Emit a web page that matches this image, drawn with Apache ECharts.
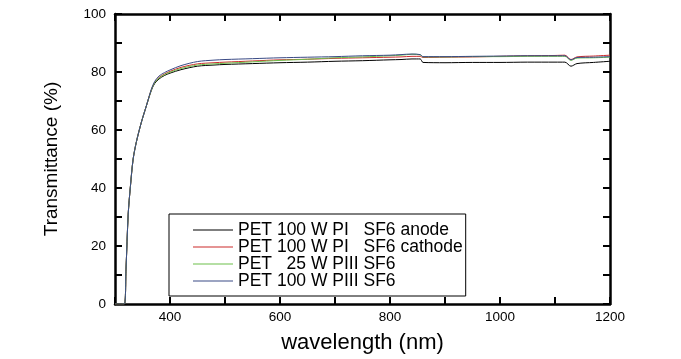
<!DOCTYPE html>
<html>
<head>
<meta charset="utf-8">
<script src="https://cdn.jsdelivr.net/npm/echarts@6/dist/echarts.min.js"></script>
<style>html,body{margin:0;padding:0;background:#fff;}#c{width:681px;height:359px;}</style>
</head>
<body>
<div id="c"></div>
<script>
const seriesNames = ['PET 100 W PI   SF6 anode', 'PET 100 W PI   SF6 cathode', 'PET   25 W PIII SF6', 'PET 100 W PIII SF6'];
const wavelengths = [300, 310, 317, 320, 324, 328, 333, 339, 348, 357, 366, 372, 380, 390, 400, 420, 450, 480, 500, 550, 600, 650, 700, 750, 800, 820, 840, 855, 860, 900, 950, 1000, 1050, 1100, 1118, 1129, 1140, 1170, 1200];
const anode    = [0, 0, 0, 12, 31, 40.5, 50, 56, 62.7, 68.3, 73.6, 76.0, 77.6, 78.8, 79.6, 80.8, 82.0, 82.4, 82.6, 82.9, 83.2, 83.4, 83.7, 83.9, 84.2, 84.3, 84.5, 84.5, 83.3, 83.2, 83.3, 83.3, 83.4, 83.4, 83.4, 82.0, 82.9, 83.3, 83.7];
const cathode  = [0, 0, 0, 12, 31, 40.5, 50, 56, 62.7, 68.3, 73.9, 76.4, 78.1, 79.3, 80.2, 81.6, 82.8, 83.2, 83.4, 83.8, 84.2, 84.4, 84.7, 84.9, 85.1, 85.2, 85.4, 85.4, 85.0, 85.1, 85.2, 85.4, 85.6, 85.7, 85.8, 84.3, 85.2, 85.5, 85.8];
const piii25   = [0, 0, 0, 12, 31, 40.5, 50, 56, 62.7, 68.3, 73.8, 76.3, 77.9, 79.1, 79.9, 81.2, 82.4, 82.8, 83.0, 83.5, 84.0, 84.4, 84.9, 85.2, 85.6, 85.8, 86.1, 85.9, 85.2, 85.2, 85.3, 85.3, 85.4, 85.4, 85.4, 84.0, 84.8, 84.9, 85.1];
const piii100  = [0, 0, 0, 12, 31, 40.5, 50, 56, 62.7, 68.3, 74.0, 76.7, 78.6, 79.8, 80.7, 82.2, 83.6, 84.1, 84.3, 84.6, 84.9, 85.1, 85.3, 85.6, 85.8, 86.0, 86.2, 86.0, 85.3, 85.3, 85.4, 85.5, 85.6, 85.6, 85.6, 84.2, 85.0, 85.1, 85.3];
const colors = ['#000000', '#cc2b2b', '#6cbf4a', '#3a4a85'];
const allValues = [anode, cathode, piii25, piii100];

const font = "'Liberation Sans', Arial, sans-serif";
const chart = echarts.init(document.getElementById('c'), null, {renderer: 'canvas'});

const axisCommon = {
  axisLine: {show: true, onZero: false, lineStyle: {color: '#000', width: 2.5}},
  axisTick: {show: true, inside: true, length: 7, lineStyle: {color: '#000', width: 2}},
  splitLine: {show: false}
};

chart.setOption({
  animation: false,
  backgroundColor: '#fff',
  color: colors,
  grid: {left: 115, right: 71, top: 14, bottom: 52},
  legend: {
    data: seriesNames.map(n => ({name: n, icon: 'rect'})),
    orient: 'vertical',
    left: 169, top: 214,
    padding: [7, 3, 6, 24],
    borderColor: '#000', borderWidth: 1,
    itemWidth: 40, itemHeight: 1.2, itemGap: -1,
    textStyle: {fontFamily: font, fontSize: 17.5, color: '#000'}
  },
  xAxis: [
    Object.assign({}, axisCommon, {
      type: 'value', min: 300, max: 1200, interval: 100, position: 'bottom',
      name: 'wavelength (nm)', nameLocation: 'middle', nameGap: 28,
      nameTextStyle: {fontFamily: font, fontSize: 22, color: '#000'},
      axisLabel: {fontFamily: font, fontSize: 13.5, color: '#000', margin: 6,
        formatter: v => (v % 200 === 0 ? String(v) : '')}
    }),
    Object.assign({}, axisCommon, {
      type: 'value', min: 300, max: 1200, interval: 100, position: 'top',
      axisLabel: {show: false}
    })
  ],
  yAxis: [
    Object.assign({}, axisCommon, {
      type: 'value', min: 0, max: 100, interval: 10, position: 'left',
      name: 'Transmittance (%)', nameLocation: 'middle', nameGap: 54,
      nameTextStyle: {fontFamily: font, fontSize: 19, color: '#000'},
      axisLabel: {fontFamily: font, fontSize: 13.5, color: '#000', margin: 9,
        formatter: v => (v % 20 === 0 ? String(v) : '')}
    }),
    Object.assign({}, axisCommon, {
      type: 'value', min: 0, max: 100, interval: 10, position: 'right',
      axisLabel: {show: false}
    })
  ],
  series: seriesNames.map((name, i) => ({
    name: name,
    type: 'line',
    xAxisIndex: 0, yAxisIndex: 0,
    symbol: 'none',
    smooth: 0.3,
    lineStyle: {width: 1, color: colors[i]},
    itemStyle: {color: colors[i]},
    data: wavelengths.map((w, k) => [w, allValues[i][k]])
  }))
});
</script>
</body>
</html>
